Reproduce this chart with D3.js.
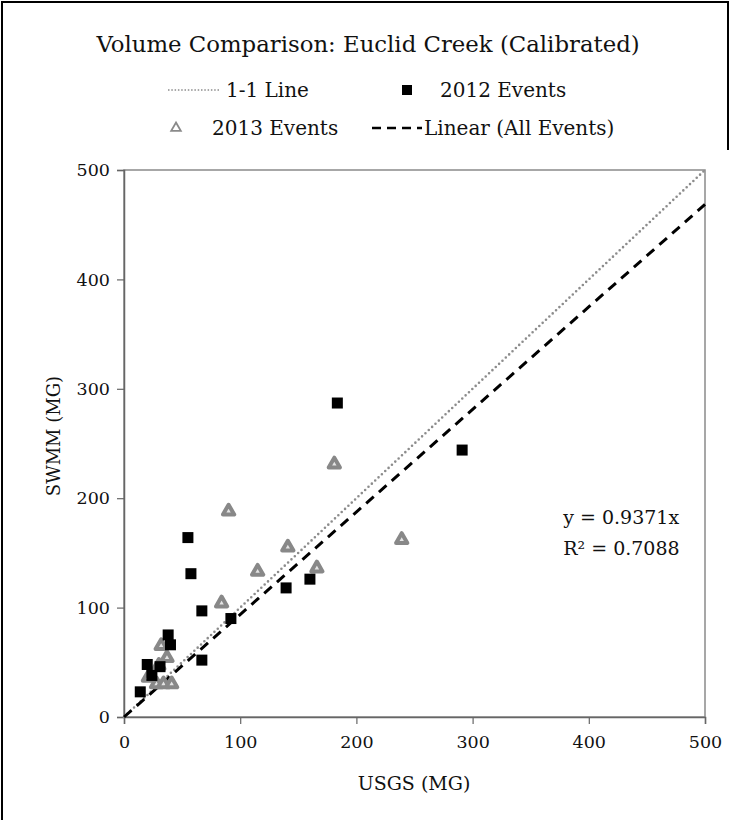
<!DOCTYPE html>
<html>
<head>
<meta charset="utf-8">
<script src="https://cdn.jsdelivr.net/npm/d3@7"></script>
<style>
  body { margin: 0; background: #fff; }
</style>
</head>
<body>
<div id="chart"></div>
<script>
// 2012 events [USGS, SWMM]
const events2012 = [
  [14, 23], [20, 48], [24, 38], [31, 46], [38, 75], [40, 66],
  [55, 164], [57.6, 131], [67, 97], [67, 52], [92, 90],
  [139.5, 118], [160, 126], [183.6, 287], [291, 244]
];
// 2013 events [USGS, SWMM]
const events2013 = [
  [21, 37], [28, 31], [30, 48], [32, 66], [34, 31], [37, 55], [41, 31],
  [84, 105], [90, 189], [115, 134], [141, 156], [166, 137], [181, 232], [239, 163]
];
const slope = 0.9371;
const xTicks = [0, 100, 200, 300, 400, 500];
const yTicks = [0, 100, 200, 300, 400, 500];

const serif = "DejaVu Serif";
const width = 738, height = 820;
const margin = { top: 170, right: 33, bottom: 103, left: 124 };
const innerWidth = width - margin.left - margin.right;
const innerHeight = height - margin.top - margin.bottom;

const svg = d3.select("#chart").append("svg")
    .attr("width", width)
    .attr("height", height)
    .attr("font-family", serif);

// outer frame (left / top edges of the picture box)
svg.append("line")
    .attr("x1", 2).attr("y1", 1).attr("x2", 2).attr("y2", height)
    .attr("stroke", "#000").attr("stroke-width", 2);
svg.append("line")
    .attr("x1", 1).attr("y1", 2).attr("x2", 729).attr("y2", 2)
    .attr("stroke", "#000").attr("stroke-width", 2);
svg.append("line")
    .attr("x1", 728).attr("y1", 1).attr("x2", 728).attr("y2", 150)
    .attr("stroke", "#000").attr("stroke-width", 2);

// title
svg.append("text")
    .attr("x", 368)
    .attr("y", 52)
    .attr("text-anchor", "middle")
    .attr("font-family", serif)
    .attr("font-size", 22.8)
    .attr("fill", "#111")
    .text("Volume Comparison: Euclid Creek (Calibrated)");

const g = svg.append("g")
    .attr("transform", `translate(${margin.left},${margin.top})`);

const x = d3.scaleLinear().domain([0, 500]).range([0, innerWidth]);
const y = d3.scaleLinear().domain([0, 500]).range([innerHeight, 0]);

// plot frame
g.append("rect")
    .attr("width", innerWidth)
    .attr("height", innerHeight)
    .attr("fill", "none")
    .attr("stroke", "#8a8a8a")
    .attr("stroke-width", 1.5);

// axes
const xAxis = g.append("g")
    .attr("transform", `translate(0,${innerHeight})`)
    .call(d3.axisBottom(x).tickValues(xTicks).tickSize(7).tickPadding(7));
const yAxis = g.append("g")
    .call(d3.axisLeft(y).tickValues(yTicks).tickSize(7).tickPadding(7));

[xAxis, yAxis].forEach(a => {
  a.attr("font-family", serif).attr("font-size", 17.5);
  a.select(".domain").attr("stroke", "#666").attr("stroke-width", 1.5);
  a.selectAll(".tick line").attr("stroke", "#666").attr("stroke-width", 1.2);
  a.selectAll("text").attr("fill", "#111");
});
xAxis.selectAll("text").attr("dy", "0.95em");

// axis titles
svg.append("text")
    .attr("x", 414)
    .attr("y", 790)
    .attr("text-anchor", "middle")
    .attr("font-family", serif)
    .attr("font-size", 19)
    .attr("fill", "#111")
    .text("USGS (MG)");

svg.append("text")
    .attr("transform", "translate(60,436) rotate(-90)")
    .attr("text-anchor", "middle")
    .attr("font-family", serif)
    .attr("font-size", 18)
    .attr("fill", "#111")
    .text("SWMM (MG)");

// 1-1 line
g.append("line")
    .attr("x1", x(0)).attr("y1", y(0))
    .attr("x2", x(500)).attr("y2", y(500))
    .attr("stroke", "#8c8c8c")
    .attr("stroke-width", 2.6)
    .attr("stroke-linecap", "round")
    .attr("stroke-dasharray", "0,4.6");

// linear trend
g.append("line")
    .attr("x1", x(0)).attr("y1", y(0))
    .attr("x2", x(500)).attr("y2", y(500 * slope))
    .attr("stroke", "#000")
    .attr("stroke-width", 3)
    .attr("stroke-dasharray", "10,7");

// 2013 markers
const tri = d3.symbol().type(d3.symbolTriangle).size(55);
g.selectAll(".e2013")
  .data(events2013)
  .join("path")
    .attr("class", "e2013")
    .attr("transform", d => `translate(${x(d[0])},${y(d[1]) + 1})`)
    .attr("d", tri)
    .attr("fill", "#e4e4e4")
    .attr("stroke", "#888")
    .attr("stroke-width", 4)
    .attr("stroke-linejoin", "round");

// 2012 markers
const sq = 11;
g.selectAll(".e2012")
  .data(events2012)
  .join("rect")
    .attr("class", "e2012")
    .attr("x", d => x(d[0]) - sq / 2)
    .attr("y", d => y(d[1]) - sq / 2)
    .attr("width", sq)
    .attr("height", sq)
    .attr("fill", "#000");

// equation
const eq = g.append("g").attr("font-family", serif).attr("font-size", 19).attr("fill", "#111");
eq.append("text")
    .attr("x", x(378))
    .attr("y", y(176))
    .text("y = 0.9371x");
eq.append("text")
    .attr("x", x(378))
    .attr("y", y(148))
    .text("R² = 0.7088");

// legend
const leg = svg.append("g").attr("font-family", serif).attr("font-size", 20).attr("fill", "#111");
leg.append("line")
    .attr("x1", 168).attr("x2", 220).attr("y1", 90).attr("y2", 90)
    .attr("stroke", "#8c8c8c").attr("stroke-width", 1.5)
    .attr("stroke-dasharray", "1.5,1.8");
leg.append("text").attr("x", 226).attr("y", 97).text("1-1 Line");

leg.append("rect")
    .attr("x", 402).attr("y", 85).attr("width", 10).attr("height", 10)
    .attr("fill", "#000");
leg.append("text").attr("x", 440).attr("y", 97).text("2012 Events");

leg.append("path")
    .attr("transform", "translate(176,128)")
    .attr("d", d3.symbol().type(d3.symbolTriangle).size(40))
    .attr("fill", "#fff")
    .attr("stroke", "#8a8a8a")
    .attr("stroke-width", 1.8);
leg.append("text").attr("x", 212).attr("y", 135).text("2013 Events");

leg.append("line")
    .attr("x1", 372).attr("x2", 422).attr("y1", 128).attr("y2", 128)
    .attr("stroke", "#000").attr("stroke-width", 2.5)
    .attr("stroke-dasharray", "9,6");
leg.append("text").attr("x", 424).attr("y", 135).text("Linear (All Events)");
</script>
</body>
</html>
